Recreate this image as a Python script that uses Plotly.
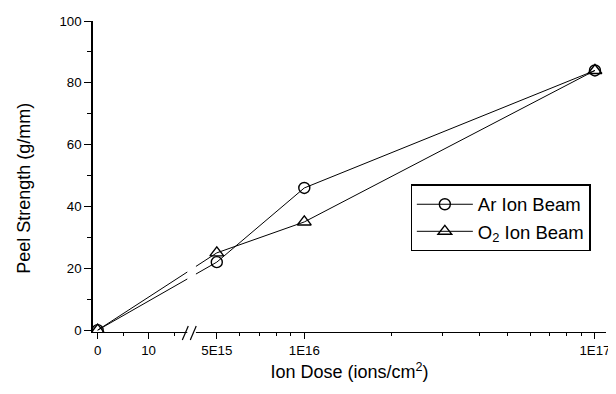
import numpy as np
import plotly.graph_objects as go

# ---- data ----
dose = [0, 5e15, 1e16, 1e17]
ar_peel = [0, 22, 46, 84]
o2_peel = [0, 25, 35, 84]

x_major_vals = [0, 10, 5e15, 1e16, 1e17]
x_major_text = ["0", "10", "5E15", "1E16", "1E17"]
x_minor_vals = [5, 15, 6e15, 7e15, 8e15, 9e15, 2e16, 3e16, 4e16, 5e16, 6e16, 7e16, 8e16, 9e16]
y_major_vals = [0, 20, 40, 60, 80, 100]
y_minor_vals = [10, 30, 50, 70, 90]

# ---- broken-axis scale: linear segment (0..17) then log segment (5E15..1E17) ----
LIN_MAX = 17.0
LOG_START = 5e15
LOG_OFFSET = 23.4
DECADE = 57.1


def scale(v):
    v = np.asarray(v, dtype=float)
    logpart = LOG_OFFSET + DECADE * np.log10(np.maximum(v, 1.0) / LOG_START)
    return np.where(v <= LIN_MAX, v, logpart)


FONT = "Arial, Liberation Sans, Helvetica, sans-serif"

fig = go.Figure()
fig.add_trace(go.Scatter(
    x=scale(dose), y=ar_peel, mode="lines+markers", name="Ar Ion Beam",
    line=dict(color="black", width=1),
    marker=dict(symbol="circle-open", size=11, color="black", line=dict(width=1.4, color="black")),
))
fig.add_trace(go.Scatter(
    x=scale(dose), y=o2_peel, mode="lines+markers", name="O<sub>2</sub> Ion Beam",
    line=dict(color="black", width=1),
    marker=dict(symbol="triangle-up-open", size=12, color="black", line=dict(width=1.4, color="black")),
))

# break in the axis
gap0, gap1 = 17.6, 19.3
shapes = [
    dict(type="rect", xref="x", yref="paper", x0=gap0, x1=gap1, y0=-0.02, y1=0.25,
         fillcolor="white", line=dict(width=0), layer="above"),
    dict(type="line", xref="x", yref="paper", x0=16.63, x1=17.80, y0=-0.0255, y1=0.019,
         line=dict(color="black", width=1.2), layer="above"),
    dict(type="line", xref="x", yref="paper", x0=18.19, x1=19.36, y0=-0.0255, y1=0.019,
         line=dict(color="black", width=1.2), layer="above"),
]

# page body has an 8px margin, so the figure is 8px smaller and margins compensate
fig.update_layout(
    width=608, height=386,
    margin=dict(l=85, r=6, t=10, b=62),
    paper_bgcolor="white", plot_bgcolor="white",
    font=dict(family=FONT, color="black", size=13),
    showlegend=True,
    legend=dict(x=0.619, y=0.4745, xanchor="left", yanchor="top",
                bordercolor="black", borderwidth=1.3, bgcolor="white",
                itemwidth=56, tracegroupgap=0,
                font=dict(size=18.5, family=FONT)),
    shapes=shapes,
    annotations=[dict(text="Peel Strength (g/mm)", xref="paper", yref="paper",
                      x=-0.1335, y=0.462, xanchor="center", yanchor="middle",
                      textangle=-90, showarrow=False, font=dict(size=18, family=FONT))],
)

fig.update_xaxes(
    range=[-0.92, 99.86], showgrid=False, zeroline=False,
    showline=True, linecolor="black", linewidth=1.3,
    tickmode="array", tickvals=scale(x_major_vals), ticktext=x_major_text,
    ticks="outside", ticklen=6, tickwidth=1.2, tickcolor="black",
    tickfont=dict(size=13.3),
    minor=dict(tickmode="array", tickvals=scale(x_minor_vals), ticks="outside",
               ticklen=3, tickwidth=1, tickcolor="black"),
    title=dict(text="Ion Dose (ions/cm<sup>2</sup>)", font=dict(size=18), standoff=8),
)
fig.update_yaxes(
    range=[-0.6, 100], showgrid=False, zeroline=False,
    showline=True, linecolor="black", linewidth=1.5,
    tickmode="array", tickvals=y_major_vals,
    ticks="outside", ticklen=7, tickwidth=1.2, tickcolor="black",
    tickfont=dict(size=13.3),
    minor=dict(tickmode="array", tickvals=y_minor_vals, ticks="outside",
               ticklen=4, tickwidth=1, tickcolor="black"),
)

fig.write_html("out.html")
